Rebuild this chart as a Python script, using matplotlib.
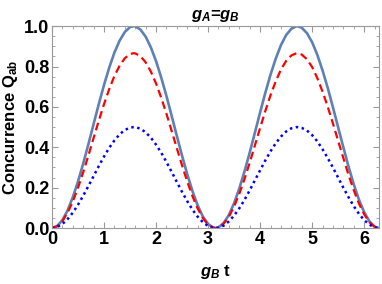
import matplotlib
matplotlib.use('Agg')
import matplotlib.pyplot as plt
from matplotlib.ticker import MultipleLocator

# values
t = [0, 0.1, 0.2, 0.3, 0.4, 0.5, 0.6, 0.7, 0.8, 0.9, 1.0, 1.1, 1.2, 1.3, 1.4, 1.5, 1.571,
     1.6, 1.7, 1.8, 1.9, 2.0, 2.1, 2.2, 2.3, 2.4, 2.5, 2.6, 2.7, 2.8, 2.9, 3.0, 3.1, 3.142,
     3.2, 3.3, 3.4, 3.5, 3.6, 3.7, 3.8, 3.9, 4.0, 4.1, 4.2, 4.3, 4.4, 4.5, 4.6, 4.7, 4.712,
     4.8, 4.9, 5.0, 5.1, 5.2, 5.3, 5.4, 5.5, 5.6, 5.7, 5.8, 5.9, 6.0, 6.1, 6.2, 6.283]

q_solid = [0, 0.010, 0.039, 0.087, 0.152, 0.230, 0.319, 0.415, 0.515, 0.614, 0.708, 0.794,
           0.869, 0.928, 0.971, 0.995, 1.000, 0.999, 0.983, 0.948, 0.895, 0.827, 0.745, 0.654,
           0.556, 0.456, 0.358, 0.266, 0.183, 0.112, 0.057, 0.020, 0.002, 0.000, 0.003, 0.025,
           0.065, 0.123, 0.196, 0.281, 0.374, 0.473, 0.573, 0.670, 0.760, 0.839, 0.906, 0.956,
           0.987, 1.000, 1.000, 0.992, 0.965, 0.920, 0.857, 0.780, 0.693, 0.597, 0.498, 0.399,
           0.303, 0.216, 0.140, 0.078, 0.033, 0.007, 0]

q_dashed = [0, 0.009, 0.034, 0.076, 0.131, 0.199, 0.276, 0.359, 0.446, 0.532, 0.613, 0.688,
            0.753, 0.804, 0.841, 0.862, 0.866, 0.865, 0.851, 0.821, 0.775, 0.716, 0.645, 0.566,
            0.481, 0.395, 0.310, 0.230, 0.158, 0.097, 0.049, 0.017, 0.002, 0.000, 0.003, 0.022,
            0.056, 0.107, 0.170, 0.243, 0.324, 0.410, 0.496, 0.580, 0.658, 0.727, 0.785, 0.828,
            0.855, 0.866, 0.866, 0.859, 0.836, 0.797, 0.742, 0.675, 0.600, 0.517, 0.431, 0.346,
            0.262, 0.187, 0.121, 0.068, 0.029, 0.006, 0]

q_dotted = [0, 0.005, 0.020, 0.044, 0.076, 0.115, 0.160, 0.208, 0.257, 0.307, 0.354, 0.397,
            0.434, 0.464, 0.486, 0.497, 0.500, 0.500, 0.492, 0.474, 0.448, 0.413, 0.373, 0.327,
            0.278, 0.228, 0.179, 0.133, 0.091, 0.056, 0.029, 0.010, 0.001, 0.000, 0.002, 0.012,
            0.033, 0.062, 0.098, 0.140, 0.187, 0.237, 0.286, 0.335, 0.380, 0.420, 0.453, 0.478,
            0.494, 0.500, 0.500, 0.496, 0.483, 0.460, 0.429, 0.390, 0.346, 0.299, 0.249, 0.199,
            0.152, 0.108, 0.070, 0.039, 0.017, 0.003, 0]

plt.rcParams['font.family'] = ['Liberation Sans', 'DejaVu Sans']
plt.rcParams['font.weight'] = 'bold'
plt.rcParams['mathtext.fontset'] = 'custom'
plt.rcParams['mathtext.rm'] = 'Liberation Sans:bold'
plt.rcParams['mathtext.it'] = 'Liberation Sans:bold:italic'
plt.rcParams['mathtext.bf'] = 'Liberation Sans:bold'

fig = plt.figure(figsize=(3.82, 2.84), dpi=100)
ax = fig.add_axes([0.136, 0.197, 0.856, 0.711])

ax.plot(t, q_solid, color='#5E81B5', lw=1.9, solid_capstyle='round')
ax.plot(t, q_dashed, color='red', lw=1.6, dashes=(3.5, 2.0))
ax.plot(t, q_dotted, color='blue', lw=1.8, dashes=(1.0, 1.4))

ax.set_xlim(0, 6.283)
ax.set_ylim(0, 1.0)
ax.xaxis.set_major_locator(MultipleLocator(1))
ax.xaxis.set_minor_locator(MultipleLocator(0.2))
ax.yaxis.set_major_locator(MultipleLocator(0.2))
ax.yaxis.set_minor_locator(MultipleLocator(0.05))
ax.tick_params(which='both', direction='in', top=True, right=True, color='#999999',
               labelsize=13, pad=2)
ax.tick_params(which='major', length=4, width=0.8)
ax.tick_params(which='minor', length=2.5, width=0.6)
for lbl in ax.get_xticklabels() + ax.get_yticklabels():
    lbl.set_fontweight('bold')
for s in ax.spines.values():
    s.set_color('#999999')
    s.set_linewidth(0.8)

ax.set_xlabel(r'$g_B$ t', fontsize=12, fontweight='bold', labelpad=11)
ax.set_ylabel(r'Concurrence $\mathrm{Q_{ab}}$', fontsize=12, fontweight='bold')
ax.yaxis.set_label_coords(-0.098, 0.5)
ax.set_title(r'$g_A$=$g_B$', fontsize=12, fontweight='bold', pad=5)

fig.savefig('out.png', dpi=100)
